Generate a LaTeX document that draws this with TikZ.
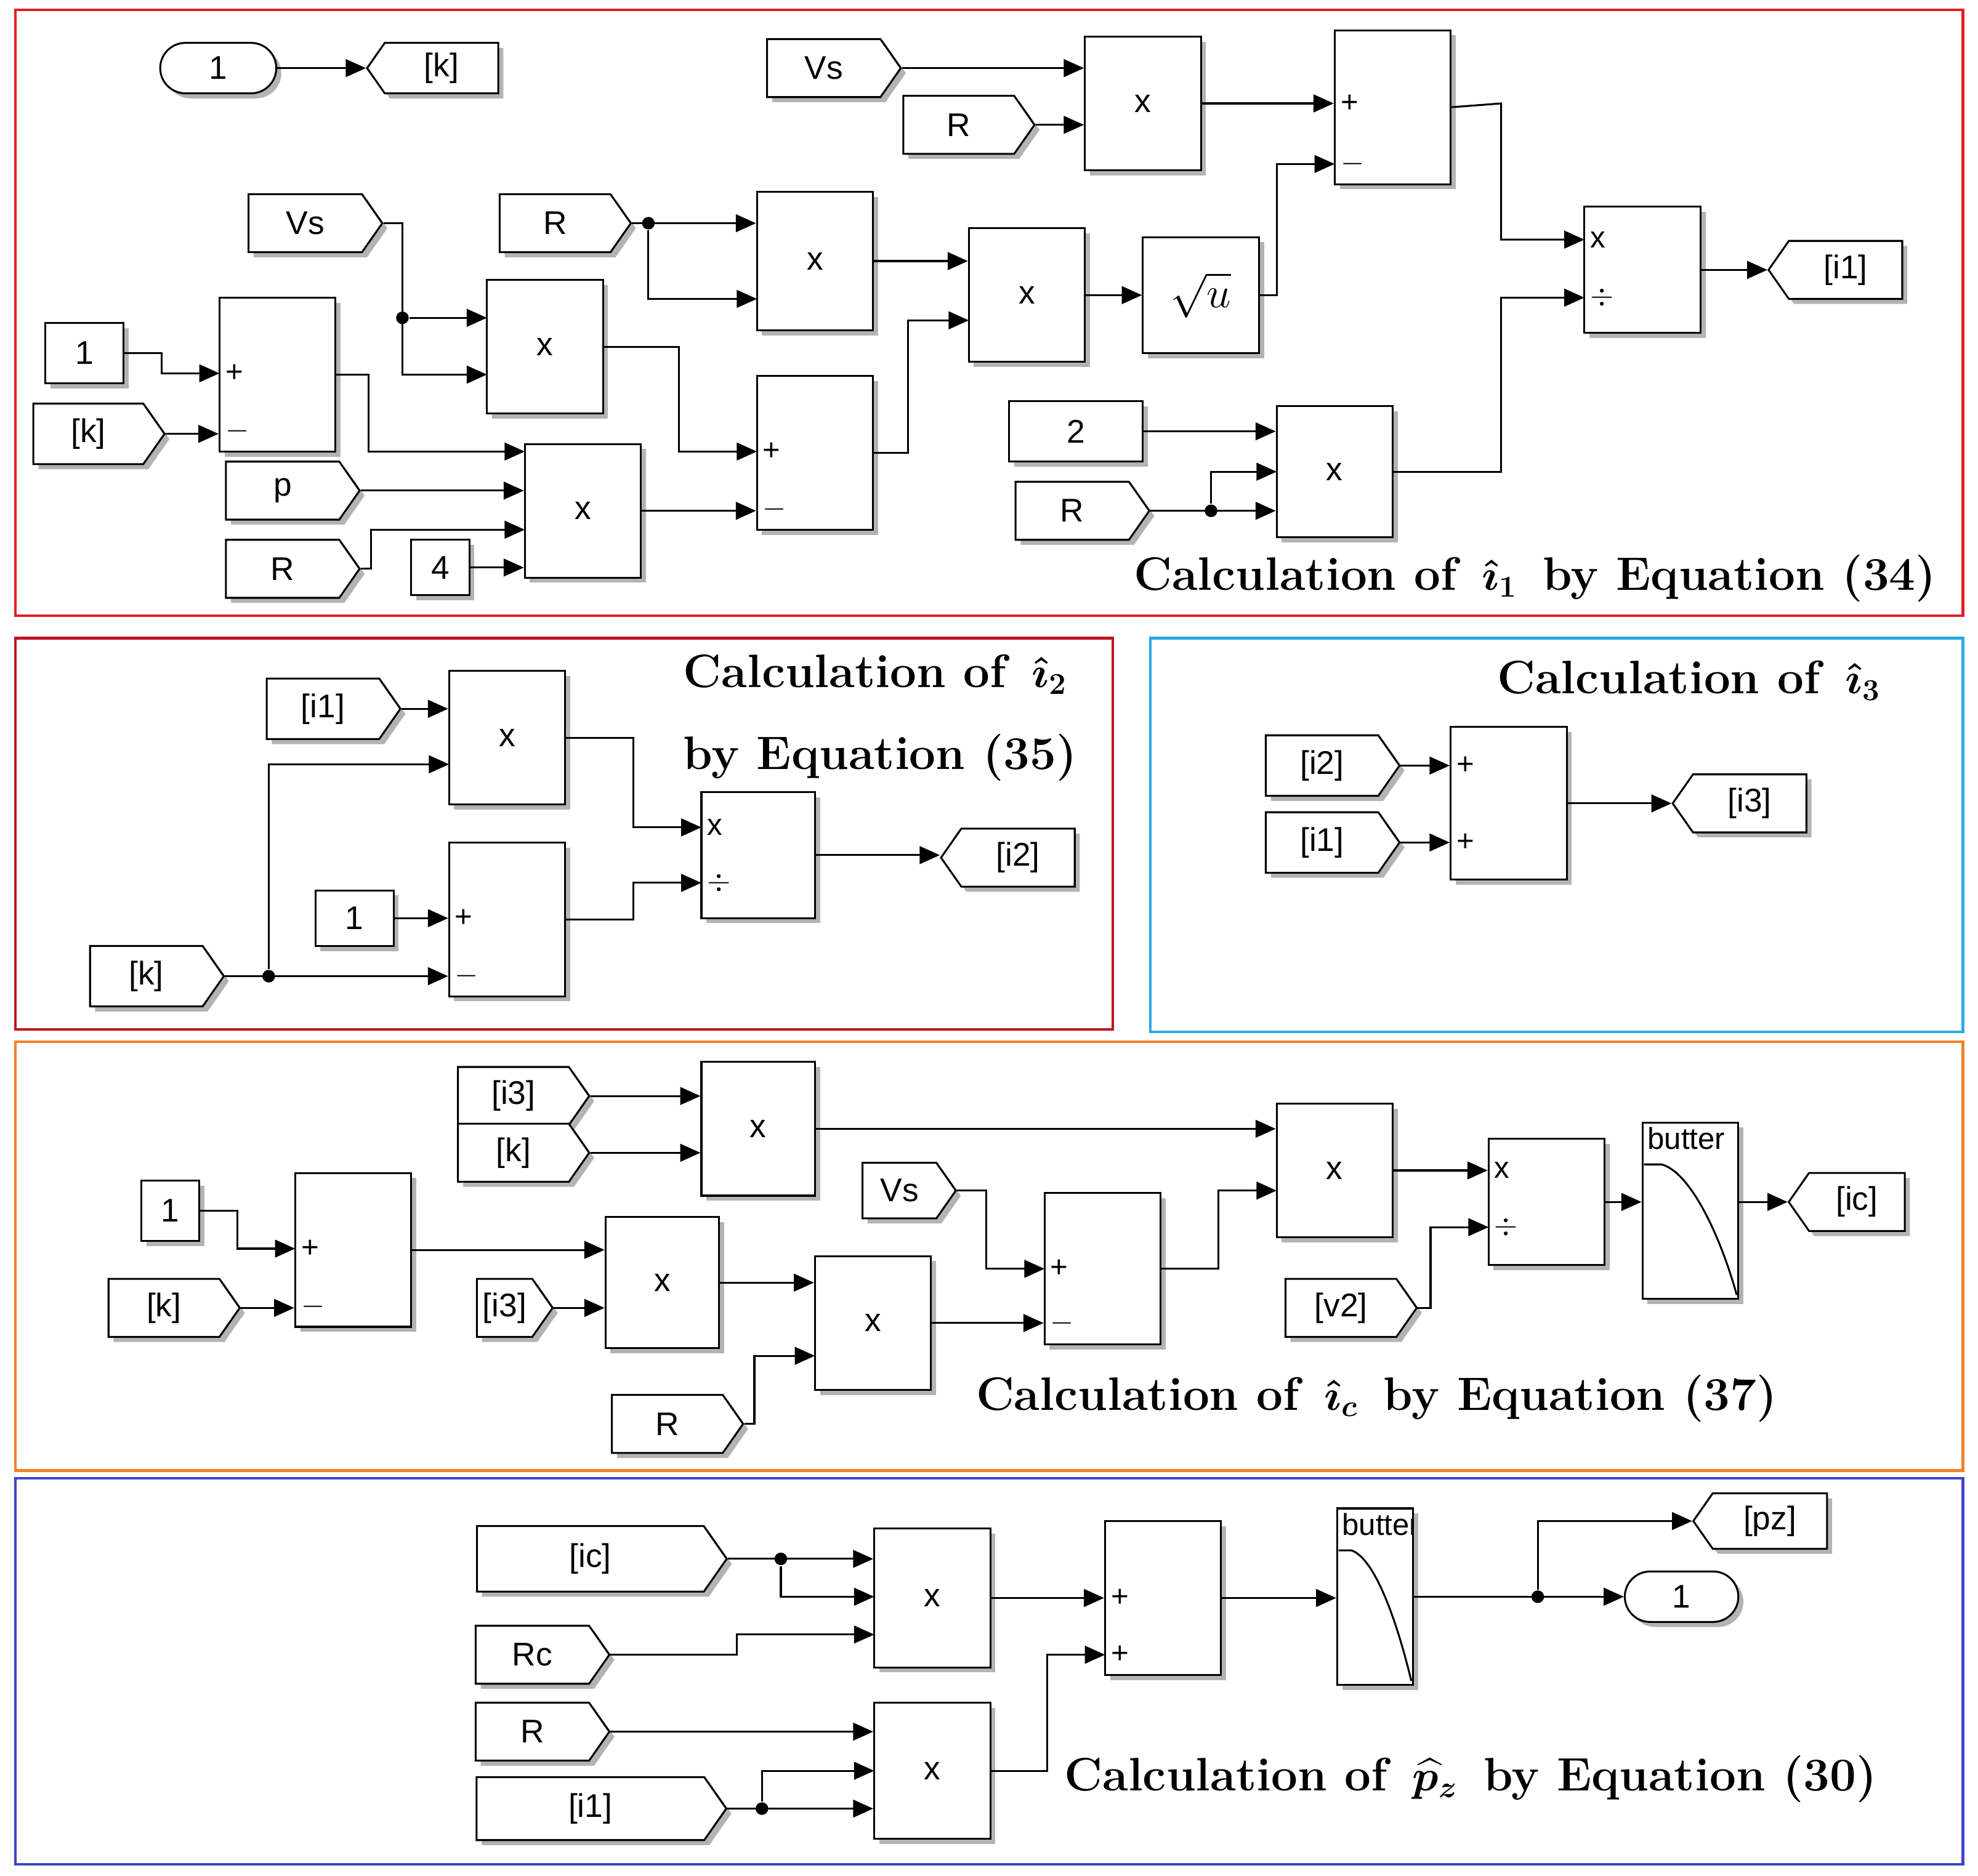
\documentclass[tikz,border=0pt]{standalone}
\usepackage{amsmath}
\usepackage{fontspec}
\newfontfamily\blkfont{Liberation Sans}
\usetikzlibrary{arrows.meta,shapes.symbols,shapes.misc,shadows}
\definecolor{pRed}{RGB}{228,30,40}
\definecolor{pDark}{RGB}{190,20,30}
\definecolor{pCyan}{RGB}{40,170,230}
\definecolor{pOrange}{RGB}{240,130,40}
\definecolor{pBlue}{RGB}{60,70,200}
\def\u{0.5pt}
\tikzset{every picture/.style={line width=0.75pt},
  blk/.style 2 args={draw, fill=white, minimum width=#1*\u, minimum height=#2*\u, inner sep=0pt,
    drop shadow={shadow xshift=2pt,shadow yshift=-2pt,fill=black!50,opacity=0.6},
    font=\blkfont\fontsize{13}{15}\selectfont},
  src/.style 2 args={blk={#1}{#2}, signal, signal to=east, signal pointer angle=110},
  gto/.style 2 args={blk={#1}{#2}, signal, signal to=west, signal pointer angle=110},
  cst/.style 2 args={blk={#1}{#2}},
  port/.style={blk={#1}{40}, rounded rectangle},
  sig/.style={-{Triangle[length=8pt,width=7pt]}},
  pl/.style={anchor=west, inner sep=2pt, font=\blkfont\fontsize{12}{14}\selectfont},
  dot/.style={circle, fill, inner sep=0pt, minimum size=5pt},
  ttl/.style={anchor=base west, inner sep=0pt, font=\bfseries\boldmath\fontsize{18.6}{21}\selectfont},
  panel/.style={draw=#1, line width=1pt}
}
\begin{document}
\begin{tikzpicture}[x=0.5pt,y=-0.5pt]
\useasboundingbox (0,0) rectangle (1568,1487);
% panels
\draw[panel=pRed] (12,8) rectangle (1556,488);
\draw[panel=pDark] (12,506) rectangle (882,816);
\draw[panel=pCyan] (912,506) rectangle (1556,818);
\draw[panel=pOrange] (12,826) rectangle (1556,1166);
\draw[panel=pBlue] (12,1172) rectangle (1556,1478);

%%%% i1 by Equation (34)
\node[port=92] (one) at (173,54) {1};
\node[gto={104}{40}] (gk) at (350,54) {[k]};
\draw[sig] (one.east) -- (gk.west);
\node[src={106}{46}] (vsA) at (653,54) {Vs};
\node[src={104}{46}] (rA) at (760,99) {R};
\node[blk={92}{106}] (m1) at (906,82) {x};
\draw[sig] (vsA.east) -- (vsA.east -| m1.west);
\draw[sig] (rA.east) -- (rA.east -| m1.west);
\node[blk={92}{122}] (s1) at (1104,85) {};
\node[pl] at (1058,82) {+};
\node[pl] at (1058,130) {$-$};
\draw[sig] (m1.east) -- (m1.east -| s1.west);
\node[src={106}{46}] (vsB) at (242,177) {Vs};
\node[src={104}{46}] (rB) at (440,177) {R};
\node[blk={92}{110}] (m2) at (646,207) {x};
\node[blk={92}{106}] (m3) at (432,275) {x};
\node[blk={92}{106}] (m4) at (814,234) {x};
\node[blk={92}{92}] (sq) at (952,234) {\fontsize{17}{19}\selectfont$\sqrt{u}$};
\draw[sig] (vsB.east) -- (319,177) |- (386,297);
\node[dot] (d319) at (319,252) {};
\draw[sig] (d319) -- (386,252);
\draw[sig] (rB.east) -- (rB.east -| m2.west);
\node[dot] (d514) at (514,177) {};
\draw[sig] (d514) |- (600,237);
\draw[sig] (m2.east) -- (m2.east -| m4.west);
\draw[sig] (m4.east) -- (sq.west);
\draw[sig] (sq.east) -- (1012,234) |- (1058,130);
\node[blk={92}{100}] (d1) at (1302,214) {};
\node[pl] at (1256,190) {x};
\node[pl] at (1256,236) {$\div$};
\node[gto={106}{46}] (gi1) at (1463,214) {[i1]};
\draw[sig] (s1.east) -- (1190,82) |- (1256,190);
\draw[sig] (d1.east) -- (gi1.west);
\node[cst={62}{48}] (c1) at (67,280) {1};
\node[blk={92}{122}] (s2) at (220,297) {};
\node[pl] at (174,296) {+};
\node[pl] at (174,342) {$-$};
\node[src={104}{48}] (kA) at (70,344) {[k]};
\draw[sig] (c1.east) -- (128,280) |- (174,296);
\draw[sig] (kA.east) -- (kA.east -| s2.west);
\node[blk={92}{106}] (m5) at (462,405) {x};
\node[src={106}{46}] (pA) at (224,389) {p};
\node[src={106}{46}] (rC) at (224,451) {R};
\node[cst={46}{44}] (c4) at (349,450) {4};
\draw[sig] (s2.east) -- (292,297) |- (416,358);
\draw[sig] (pA.east) -- (pA.east -| m5.west);
\draw[sig] (rC.east) -- (294,451) |- (416,420);
\draw[sig] (c4.east) -- (c4.east -| m5.west);
\node[blk={92}{122}] (s3) at (646,359) {};
\node[pl] at (600,358) {+};
\node[pl] at (600,404) {$-$};
\draw[sig] (m3.east) -- (538,275) |- (600,358);
\draw[sig] (m5.east) -- (m5.east -| s3.west);
\draw[sig] (s3.east) -- (720,359) |- (768,254);
\node[cst={106}{48}] (c2) at (853,342) {2};
\node[src={106}{46}] (rD) at (850,405) {R};
\node[blk={92}{104}] (m6) at (1058,374) {x};
\draw[sig] (c2.east) -- (c2.east -| m6.west);
\draw[sig] (rD.east) -- (rD.east -| m6.west);
\node[dot] (d960) at (960,405) {};
\draw[sig] (d960) |- (1012,374);
\draw[sig] (m6.east) -- (1190,374) |- (1256,236);
\node[ttl] at (898,468) {Calculation of\, $\hat{\imath}_1$\, by Equation (34)};

%%%% i2 by Equation (35)
\node[src={106}{48}] (i1B) at (256,562) {[i1]};
\node[blk={92}{106}] (m7) at (402,585) {x};
\draw[sig] (i1B.east) -- (i1B.east -| m7.west);
\node[blk={90}{100}] (d2) at (601,678) {};
\node[pl] at (556,656) {x};
\node[pl] at (556,700) {$\div$};
\node[gto={106}{46}] (gi2) at (807,680) {[i2]};
\node[cst={62}{44}] (c1B) at (281,728) {1};
\node[blk={92}{122}] (s4) at (402,729) {};
\node[pl] at (356,728) {+};
\node[pl] at (356,774) {$-$};
\draw[sig] (c1B.east) -- (c1B.east -| s4.west);
\node[src={106}{48}] (kB) at (116,774) {[k]};
\draw[sig] (kB.east) -- (kB.east -| s4.west);
\node[dot] (d213) at (213,774) {};
\draw[sig] (d213) |- (356,606);
\draw[sig] (m7.east) -- (502,585) |- (556,656);
\draw[sig] (s4.east) -- (502,729) |- (556,700);
\draw[sig] (d2.east) -- (d2.east -| gi2.west);
\node[ttl] at (541,545) {Calculation of\, $\hat{\imath}_2$};
\node[ttl] at (541,610) {by Equation (35)};

%%%% i3
\node[src={106}{48}] (i2C) at (1048,607) {[i2]};
\node[src={106}{48}] (i1C) at (1048,668) {[i1]};
\node[blk={92}{121}] (s5) at (1196,637) {};
\node[pl] at (1150,607) {+};
\node[pl] at (1150,668) {+};
\node[gto={106}{46}] (gi3) at (1387,637) {[i3]};
\draw[sig] (i2C.east) -- (i2C.east -| s5.west);
\draw[sig] (i1C.east) -- (i1C.east -| s5.west);
\draw[sig] (s5.east) -- (gi3.west);
\node[ttl] at (1186,550) {Calculation of\, $\hat{\imath}_3$};

%%%% ic by Equation (37)
\node[src={104}{46}] (i3D) at (407,869) {[i3]};
\node[src={104}{46}] (kD) at (407,914) {[k]};
\node[blk={90}{106}] (m8) at (601,895) {x};
\draw[sig] (i3D.east) -- (i3D.east -| m8.west);
\draw[sig] (kD.east) -- (kD.east -| m8.west);
\node[blk={92}{106}] (m9) at (1058,928) {x};
\draw[sig] (m8.east) -- (m8.east -| m9.west);
\node[blk={92}{100}] (d3) at (1226,953) {};
\node[pl] at (1180,928) {x};
\node[pl] at (1180,973) {$\div$};
\draw[sig] (m9.east) -- (m9.east -| d3.west);
\node[blk={76}{140}] (bt1) at (1340,960) {};
\begin{scope}
\clip (bt1.south west) rectangle (bt1.north east);
\node[anchor=north west, inner sep=2pt, font=\blkfont\fontsize{12}{14}\selectfont] at (bt1.north west) {butter};
\draw ([shift={(2,34)}]bt1.north west) -- ++(14,0) .. controls ++(22,6) and ++(-14,-50) .. ([shift={(-2,-4)}]bt1.south east);
\end{scope}
\draw[sig] (d3.east) -- (d3.east -| bt1.west);
\node[gto={92}{46}] (gic) at (1472,953) {[ic]};
\draw[sig] (bt1.east |- gic) -- (gic.west);
\node[src={74}{44}] (vsD) at (713,944) {Vs};
\node[blk={92}{120}] (s6) at (874,1006) {};
\node[pl] at (828,1006) {+};
\node[pl] at (828,1049) {$-$};
\draw[sig] (vsD.east) -- (782,944) |- (828,1006);
\draw[sig] (s6.east) -- (966,1006) |- (1012,944);
\node[cst={46}{48}] (c1D) at (135,960) {1};
\node[blk={92}{122}] (s7) at (280,991) {};
\node[pl] at (234,990) {+};
\node[pl] at (234,1036) {$-$};
\node[src={104}{46}] (kE) at (130,1037) {[k]};
\draw[sig] (c1D.east) -- (188,960) |- (234,990);
\draw[sig] (kE.east) -- (kE.east -| s7.west);
\node[blk={90}{104}] (m10) at (525,1017) {x};
\node[src={60}{46}] (i3E) at (400,1037) {[i3]};
\draw[sig] (s7.east) -- (s7.east -| m10.west);
\draw[sig] (i3E.east) -- (i3E.east -| m10.west);
\node[blk={92}{106}] (m11) at (692,1049) {x};
\node[src={104}{46}] (rE) at (529,1129) {R};
\draw[sig] (m10.east) -- (m10.east -| m11.west);
\draw[sig] (rE.east) -- (598,1129) |- (646,1075);
\draw[sig] (m11.east) -- (m11.east -| s6.west);
\node[src={104}{46}] (v2) at (1063,1037) {[v2]};
\draw[sig] (v2.east) -- (1134,1037) |- (1180,973);
\node[ttl] at (773,1118) {Calculation of\, $\hat{\imath}_c$\, by Equation (37)};

%%%% pz by Equation (30)
\node[src={198}{52}] (icF) at (468,1236) {[ic]};
\node[blk={92}{110}] (m12) at (739,1267) {x};
\draw[sig] (icF.east) -- (icF.east -| m12.west);
\node[dot] (d619) at (619,1236) {};
\draw[sig] (d619) |- (693,1266);
\node[src={106}{46}] (rcF) at (422,1312) {Rc};
\draw[sig] (rcF.east) -- (584,1312) |- (693,1296);
\node[src={106}{46}] (rF) at (422,1373) {R};
\node[src={198}{50}] (i1F) at (468,1434) {[i1]};
\node[blk={92}{108}] (m13) at (739,1404) {x};
\draw[sig] (rF.east) -- (rF.east -| m13.west);
\draw[sig] (i1F.east) -- (i1F.east -| m13.west);
\node[dot] (d604) at (604,1434) {};
\draw[sig] (d604) |- (693,1404);
\node[blk={92}{122}] (s8) at (922,1267) {};
\node[pl] at (876,1267) {+};
\node[pl] at (876,1312) {+};
\draw[sig] (m12.east) -- (m12.east -| s8.west);
\draw[sig] (m13.east) -- (830,1404) |- (876,1312);
\node[blk={60}{140}] (bt2) at (1090,1266) {};
\begin{scope}
\clip (bt2.south west) rectangle (bt2.north east);
\node[anchor=north west, inner sep=2pt, font=\blkfont\fontsize{12}{14}\selectfont] at (bt2.north west) {butter};
\draw ([shift={(2,34)}]bt2.north west) -- ++(10,0) .. controls ++(18,6) and ++(-12,-50) .. ([shift={(-2,-4)}]bt2.south east);
\end{scope}
\draw[sig] (s8.east) -- (s8.east -| bt2.west);
\node[port=90] (o1) at (1333,1266) {1};
\node[gto={106}{44}] (gpz) at (1403,1206) {[pz]};
\draw[sig] (bt2.east |- o1) -- (o1.west);
\node[dot] (d1219) at (1219,1266) {};
\draw[sig] (d1219) |- (gpz.west);
\node[ttl] at (843,1420) {Calculation of\, $\widehat{p}_z$\, by Equation (30)};
\end{tikzpicture}
\end{document}
